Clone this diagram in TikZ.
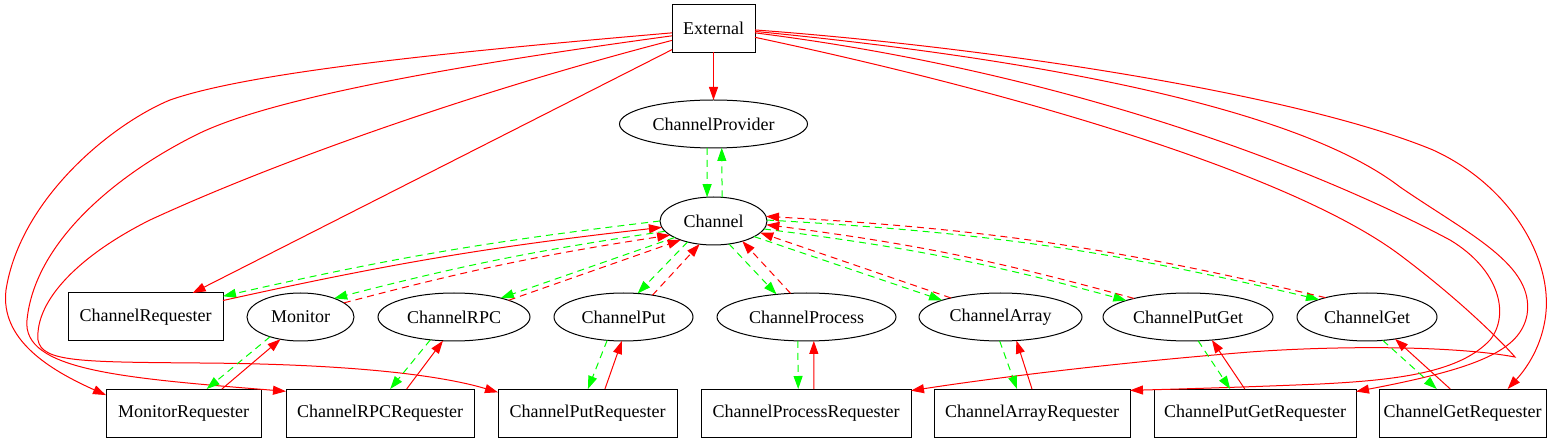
\documentclass[tikz,border=0pt]{standalone}
\usepackage{fontspec}
\setmainfont{Liberation Serif}
\usetikzlibrary{arrows.meta,shapes.geometric}

\definecolor{gvred}{RGB}{255,0,0}
\definecolor{gvgreen}{RGB}{0,255,0}

\tikzset{
  base/.style={draw, inner sep=0pt, outer sep=0pt, line width=1pt,
    minimum height=48pt, font=\fontsize{18}{22}\selectfont},
  cls/.style={base, rectangle},
  obj/.style={base, ellipse},
  tip/.style={-{Triangle[length=13pt,width=9pt]}},
  req/.style={tip, draw=gvred, line width=1pt},
  reqdash/.style={req, dash pattern=on 7pt off 5pt},
  cb/.style={tip, draw=gvgreen, line width=1pt, dash pattern=on 7pt off 5pt}
}

\begin{document}
\begin{tikzpicture}[x=1pt,y=-1pt]
\useasboundingbox (0,0) rectangle (1568,443);

\node[cls, minimum width=83pt] (ext) at (713.5,28.5) {External};
\node[obj, minimum width=188pt] (prov) at (713.5,124) {ChannelProvider};
\node[obj, minimum width=107pt] (chan) at (713.5,221) {Channel};

% middle row
\node[cls, minimum width=155pt] (creq) at (145.5,317) {ChannelRequester};
\node[obj, minimum width=107pt] (mon) at (300.5,317) {Monitor};
\node[obj, minimum width=152pt] (rpc) at (454,317) {ChannelRPC};
\node[obj, minimum width=139pt] (put) at (623.5,317) {ChannelPut};
\node[obj, minimum width=179pt] (proc) at (806.5,317) {ChannelProcess};
\node[obj, minimum width=163pt] (arr) at (1000.5,317) {ChannelArray};
\node[obj, minimum width=170pt] (pg) at (1188,317) {ChannelPutGet};
\node[obj, minimum width=140pt] (get) at (1367,317) {ChannelGet};

% bottom row
\node[cls, minimum width=155pt] (monreq) at (183.5,413) {MonitorRequester};
\node[cls, minimum width=188pt] (rpcreq) at (380,413) {ChannelRPCRequester};
\node[cls, minimum width=179pt] (putreq) at (587.5,413) {ChannelPutRequester};
\node[cls, minimum width=210pt] (procreq) at (806,413) {ChannelProcessRequester};
\node[cls, minimum width=196pt] (arrreq) at (1032,413) {ChannelArrayRequester};
\node[cls, minimum width=202pt] (pgreq) at (1255,413) {ChannelPutGetRequester};
\node[cls, minimum width=167pt] (getreq) at (1462.5,413) {ChannelGetRequester};

% provider
\draw[req] (ext.south) -- (prov.north);
\draw[cb] (prov.255) -- (chan.105);
\draw[cb] (chan.70) -- (prov.289);

% external to the requesters
\draw[req] (ext.207) -- (creq.27);
\draw[req] (ext.186) .. controls (450,52) and (250,72) .. (170,100)
  .. controls (110,125) and (20,200) .. (6,290)
  .. controls (0,340) and (50,370) .. (monreq.167);
\draw[req] (ext.190) .. controls (480,62) and (280,95) .. (200,133)
  .. controls (120,172) and (35,240) .. (27,320)
  .. controls (22,370) and (120,378) .. (rpcreq.167);
\draw[req] (ext.196) .. controls (480,90) and (280,160) .. (150,220)
  .. controls (80,255) and (35,300) .. (38,340)
  .. controls (42,362) and (80,362) .. (200,363)
  .. controls (350,364) and (440,375) .. (putreq.167);
\draw[req] (ext.-2) .. controls (1000,48) and (1300,95) .. (1433,150)
  .. controls (1510,185) and (1555,260) .. (1545,320)
  .. controls (1540,350) and (1525,370) .. (getreq.28);
\draw[req] (ext.-4) .. controls (1050,60) and (1300,110) .. (1400,187)
  .. controls (1470,235) and (1535,265) .. (1527,315)
  .. controls (1520,350) and (1480,368) .. (pgreq.12);
\draw[req] (ext.-6) .. controls (1050,70) and (1300,160) .. (1450,240)
  .. controls (1500,270) and (1510,315) .. (1490,340)
  .. controls (1460,372) and (1400,380) .. (1320,384)
  .. controls (1250,387) and (1180,389) .. (arrreq.13);
\draw[req] (ext.-12) .. controls (1050,100) and (1300,180) .. (1400,255)
  .. controls (1460,300) and (1500,340) .. (1515,357)
  .. controls (1450,345) and (1330,346) .. (1250,352)
  .. controls (1100,364) and (980,380) .. (procreq.12);

% channel and the middle row
\draw[cb] (chan.180) to[bend right=3] (creq.15);
\draw[req] (creq.12) to[bend left=3] (chan.187);
\draw[cb] (chan.192) to[bend right=3] (mon.29);
\draw[reqdash] (mon.18) to[bend left=3] (chan.198);
\draw[cb] (chan.203) -- (rpc.22);
\draw[reqdash] (rpc.17) -- (chan.210);
\draw[cb] (chan.219) -- (put.59);
\draw[reqdash] (put.37) -- (chan.239);
\draw[cb] (chan.304) -- (proc.143);
\draw[reqdash] (proc.124) -- (chan.325);
\draw[cb] (chan.339) -- (arr.164);
\draw[reqdash] (arr.159) -- (chan.346);
\draw[cb] (chan.351) to[bend left=4] (pg.165);
\draw[reqdash] (pg.161) to[bend right=4] (chan.356);
\draw[cb] (chan.1) to[bend left=5] (get.160);
\draw[reqdash] (get.155) to[bend right=5] (chan.5);

% middle row and the requesters
\draw[cb] (mon.213) -- (monreq.46);
\draw[req] (monreq.32) -- (mon.228);
\draw[cb] (rpc.224) -- (rpcreq.67);
\draw[req] (rpcreq.42) -- (rpc.245);
\draw[cb] (put.235) -- (putreq.89);
\draw[req] (putreq.54) -- (put.266);
\draw[cb] (proc.250) -- (procreq.108);
\draw[req] (procreq.72) -- (proc.287);
\draw[cb] (arr.268) -- (arrreq.122);
\draw[req] (arrreq.90) -- (arr.304);
\draw[cb] (pg.293) -- (pgreq.136);
\draw[req] (pgreq.113) -- (pg.316);
\draw[cb] (get.304) -- (getreq.137);
\draw[req] (getreq.117) -- (get.322);
\end{tikzpicture}
\end{document}
